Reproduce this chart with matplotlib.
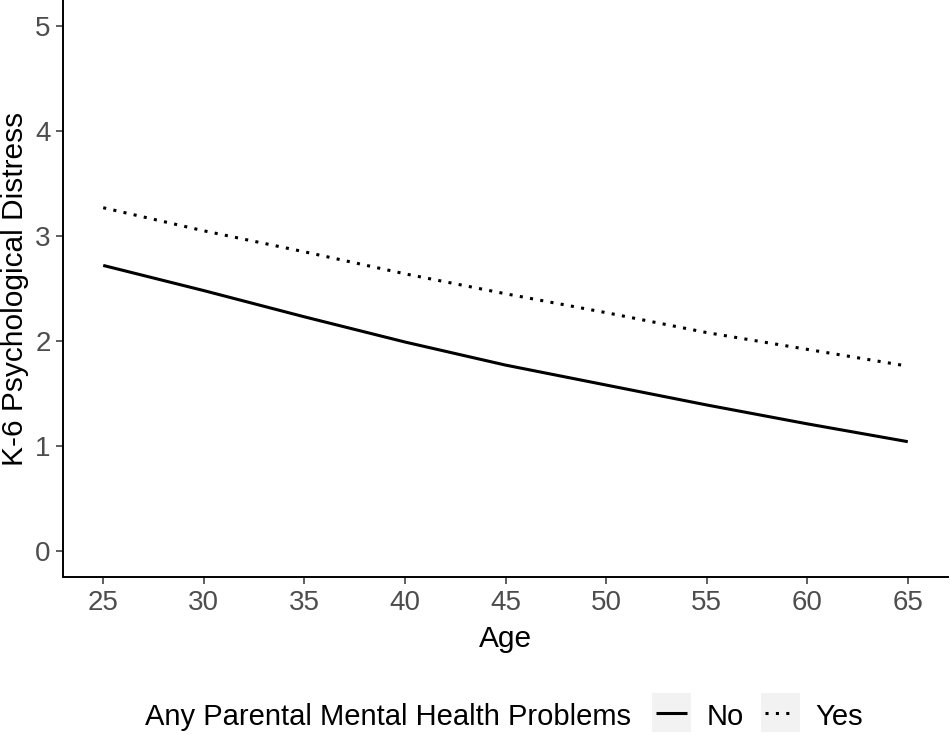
import matplotlib
matplotlib.use("Agg")
import matplotlib.pyplot as plt
from matplotlib.lines import Line2D
from matplotlib.patches import Rectangle

plt.rcParams['font.family'] = ['Liberation Sans', 'DejaVu Sans']

ages = [25, 30, 35, 40, 45, 50, 55, 60, 65]
distress_no = [2.72, 2.48, 2.23, 1.99, 1.77, 1.58, 1.39, 1.21, 1.04]
distress_yes = [3.27, 3.05, 2.85, 2.64, 2.45, 2.27, 2.08, 1.92, 1.76]
series_labels = ["No", "Yes"]
legend_title = "Any Parental Mental Health Problems"
x_ticks = [25, 30, 35, 40, 45, 50, 55, 60, 65]
y_ticks = [0, 1, 2, 3, 4, 5]

W, H = 950, 735
fig = plt.figure(figsize=(W / 100, H / 100), dpi=100)
ax = fig.add_axes([63 / W, 1 - 577 / H, (948 - 63) / W, 577 / H])

dotted = (0, (1, 2.4))
ax.plot(ages, distress_no, color='black', lw=2.2, solid_capstyle='butt')
ax.plot(ages, distress_yes, color='black', lw=2.2, linestyle=dotted, dash_capstyle='butt')

ax.set_xlim(23, 67)
ax.set_ylim(-0.25, 5.25)
ax.set_xticks(x_ticks)
ax.set_yticks(y_ticks)
for s in ['top', 'right']:
    ax.spines[s].set_visible(False)
for s in ['left', 'bottom']:
    ax.spines[s].set_linewidth(1.4)
    ax.spines[s].set_color('black')
ax.tick_params(axis='both', length=5, width=1.1, color='#333333',
               labelsize=20, labelcolor='#4D4D4D', pad=4)

fig.text(505.5 / W, 1 - 647 / H, "Age", fontsize=21.5, color='black',
         ha='center', va='baseline')
fig.text(23 / W, 1 - 288.5 / H, "K-6 Psychological Distress", fontsize=21.5,
         color='black', ha='center', va='baseline', rotation=90,
         rotation_mode='anchor')

# legend (manual, ggplot style)
base = 1 - 725 / H
mid = 1 - 712.5 / H
fig.text(145 / W, base, legend_title, fontsize=21, va='baseline', ha='left')
keys = [(652, 'solid', 707, series_labels[0]), (761, dotted, 815, series_labels[1])]
for kx, ls, tx, lab in keys:
    fig.patches.append(Rectangle((kx / W, 1 - 732 / H), 39 / W, 39 / H,
                                 transform=fig.transFigure, facecolor='#F2F2F2',
                                 edgecolor='none'))
    fig.lines.append(Line2D([(kx + 4) / W, (kx + 35) / W], [mid, mid],
                            transform=fig.transFigure, color='black', lw=2.2,
                            linestyle=ls, dash_capstyle='butt', solid_capstyle='butt'))
    fig.text(tx / W, base, lab, fontsize=21, va='baseline', ha='left')

fig.savefig("out.png", dpi=100)
